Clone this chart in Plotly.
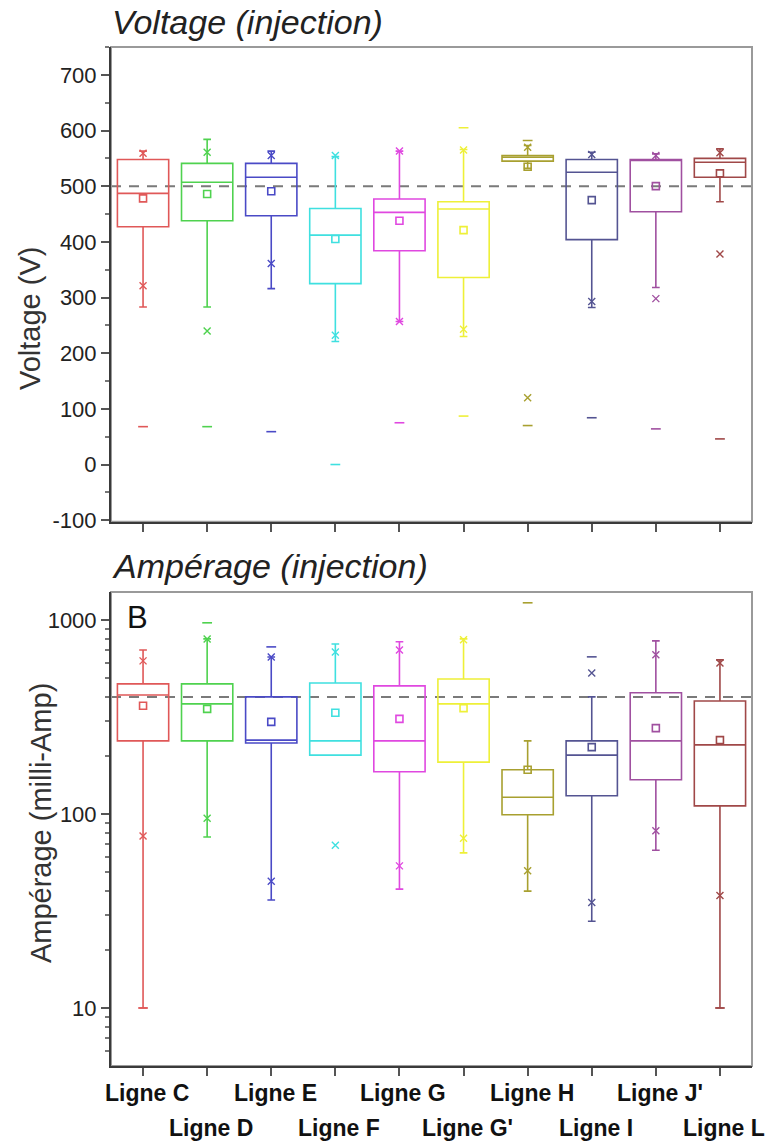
import plotly.graph_objects as go

categories = ["Ligne C", "Ligne D", "Ligne E", "Ligne F", "Ligne G",
              "Ligne G'", "Ligne H", "Ligne I", "Ligne J'", "Ligne L"]
colors = ["#e05858", "#4fd24f", "#4a4ac6", "#3fe0e0", "#e048e0",
          "#eef038", "#a8a030", "#545492", "#a050a0", "#a04848"]

# Voltage (V)
v_q1 = [427, 438, 447, 325, 384, 336, 545, 404, 454, 516]
v_med = [487, 507, 516, 412, 453, 459, 552, 525, 546, 543]
v_q3 = [548, 541, 541, 460, 477, 472, 555, 548, 548, 550]
v_lo = [283, 283, 316, 221, 257, 230, 532, 282, 318, 472]
v_hi = [563, 584, 563, 553, 563, 566, 573, 561, 558, 567]
v_mean = [478, 486, 491, 405, 438, 421, 535, 475, 500, 523]
v_p_lo = [321, 240, 361, 232, 257, 243, 120, 293, 298, 378]
v_p_hi = [559, 561, 555, 555, 563, 565, 570, 557, 555, 560]
v_min = [68, 68, 59, 0, 75, 87, 70, 84, 64, 46]
v_max = [None, None, None, None, None, 605, 582, None, None, None]
v_ref = 500

# Ampérage (milli-Amp)
a_q1 = [238, 238, 232, 201, 165, 185, 99, 124, 150, 110]
a_med = [410, 369, 240, 238, 238, 369, 122, 201, 238, 227]
a_q3 = [468, 468, 401, 473, 457, 496, 169, 238, 421, 382]
a_lo = [10, 76, 36, 201, 41, 63, 40, 28, 65, 10]
a_hi = [700, 798, 644, 751, 771, 798, 238, 401, 780, 622]
a_mean = [361, 348, 298, 332, 309, 351, 169, 221, 277, 240]
a_p_lo = [77, 95, 45, 69, 54, 75, 51, 35, 82, 38]
a_p_hi = [615, 797, 644, 684, 700, 790, None, 533, 661, 600]
a_min = [10, None, None, None, None, None, None, None, None, 10]
a_max = [None, 966, 726, None, None, None, 1225, 645, None, None]
a_ref = 400

y_ticks_v = [-100, 0, 100, 200, 300, 400, 500, 600, 700]
y_ticks_a = [10, 100, 1000]

FONT = "Liberation Sans, Arial, sans-serif"
xs = list(range(len(categories)))

fig = go.Figure()


def add_panel(xa, ya, q1, med, q3, lo, hi, mean, plo, phi, mn, mx):
    for i in xs:
        fig.add_trace(go.Box(
            x=[i], q1=[q1[i]], median=[med[i]], q3=[q3[i]],
            lowerfence=[lo[i]], upperfence=[hi[i]],
            boxpoints=False, width=0.8, whiskerwidth=0.15,
            line=dict(color=colors[i], width=1.6),
            fillcolor="rgba(255,255,255,0)",
            xaxis=xa, yaxis=ya, showlegend=False, hoverinfo="skip"))
    fig.add_trace(go.Scatter(
        x=xs, y=mean, mode="markers", xaxis=xa, yaxis=ya, showlegend=False,
        marker=dict(symbol="square-open", size=7, color=colors,
                    line=dict(width=1.6, color=colors))))
    for arr in (plo, phi):
        px = [i for i in xs if arr[i] is not None]
        fig.add_trace(go.Scatter(
            x=px, y=[arr[i] for i in px], mode="markers", xaxis=xa, yaxis=ya,
            showlegend=False,
            marker=dict(symbol="x-thin", size=7, color=[colors[i] for i in px],
                        line=dict(width=1.4, color=[colors[i] for i in px]))))
    for arr in (mn, mx):
        px = [i for i in xs if arr[i] is not None]
        fig.add_trace(go.Scatter(
            x=px, y=[arr[i] for i in px], mode="markers", xaxis=xa, yaxis=ya,
            showlegend=False,
            marker=dict(symbol="line-ew", size=7, color=[colors[i] for i in px],
                        line=dict(width=1.6, color=[colors[i] for i in px]))))


add_panel("x", "y", v_q1, v_med, v_q3, v_lo, v_hi, v_mean, v_p_lo, v_p_hi, v_min, v_max)
add_panel("x2", "y2", a_q1, a_med, a_q3, a_lo, a_hi, a_mean, a_p_lo, a_p_hi, a_min, a_max)

dash_line = dict(color="#7a7a7a", width=2, dash="10px,8px")
fig.add_shape(type="line", xref="x domain", yref="y", x0=0, x1=1,
              y0=v_ref, y1=v_ref, line=dash_line, layer="below")
fig.add_shape(type="line", xref="x2 domain", yref="y2", x0=0, x1=1,
              y0=a_ref, y1=a_ref, line=dash_line, layer="below")
for xr, yr in (("x domain", "y domain"), ("x2 domain", "y2 domain")):
    fig.add_shape(type="rect", xref=xr, yref=yr, x0=0, x1=1, y0=0, y1=1,
                  line=dict(color="#9a9a9a", width=2), layer="below")

axis_common = dict(showgrid=False, zeroline=False, showline=True,
                   linecolor="#3a3a3a", linewidth=2, ticks="outside",
                   ticklen=8, tickwidth=1.5, tickcolor="#555",
                   tickfont=dict(family=FONT, size=22, color="#222"))

minor_log = [v * m for m in (1, 10, 100) for v in range(2, 10)]

fig.update_layout(
    width=770, height=1141,
    margin=dict(l=111, r=18, t=47, b=75),
    paper_bgcolor="white", plot_bgcolor="white",
    xaxis=dict(domain=[0, 1], anchor="y", range=[-0.5, 9.5], tickvals=xs,
               showticklabels=False, **axis_common),
    yaxis=dict(domain=[0.534, 1], anchor="x", range=[-103, 750],
               tickvals=y_ticks_v, ticktext=[str(t) for t in y_ticks_v],
               minor=dict(dtick=50, ticks="outside", ticklen=4,
                          tickcolor="#777"),
               **axis_common),
    xaxis2=dict(domain=[0, 1], anchor="y2", range=[-0.5, 9.5], tickvals=xs,
                showticklabels=False, **axis_common),
    yaxis2=dict(domain=[0, 0.4652], anchor="x2", type="log",
                range=[0.701, 3.144], tickvals=y_ticks_a,
                ticktext=[str(t) for t in y_ticks_a],
                minor=dict(tickvals=minor_log, ticks="outside", ticklen=4,
                           tickcolor="#777"),
                **axis_common),
    showlegend=False,
)

ann = []
ann.append(dict(text="<i>Voltage (injection)</i>", xref="paper", yref="paper",
                x=0, y=1.0245, xanchor="left", yanchor="middle", xshift=-1,
                showarrow=False, font=dict(family=FONT, size=34, color="#222")))
ann.append(dict(text="<i>Ampérage (injection)</i>", xref="paper", yref="paper",
                x=0, y=0.4907, xanchor="left", yanchor="middle", xshift=-1,
                showarrow=False, font=dict(family=FONT, size=34, color="#222")))
ann.append(dict(text="B", xref="paper", yref="paper", x=0.0406, y=0.4406,
                xanchor="center", yanchor="middle", showarrow=False,
                font=dict(family=FONT, size=31, color="#111")))
ann.append(dict(text="Voltage (V)", xref="paper", yref="paper", x=-0.1264,
                y=0.734, xanchor="center", yanchor="middle", textangle=-90,
                showarrow=False, font=dict(family=FONT, size=29, color="#333")))
ann.append(dict(text="Ampérage (milli-Amp)", xref="paper", yref="paper",
                x=-0.109, y=0.2385, xanchor="center", yanchor="middle",
                textangle=-90, showarrow=False,
                font=dict(family=FONT, size=29, color="#333")))
for i, c in enumerate(categories):
    ann.append(dict(text="<b>%s</b>" % c, xref="x2", yref="paper", x=i,
                    y=-0.0265 if i % 2 == 0 else -0.0608,
                    xanchor="center", yanchor="middle", showarrow=False,
                    xshift=4,
                    font=dict(family=FONT, size=23, color="#111")))
fig.update_layout(annotations=ann)

fig.write_html("out.html")
